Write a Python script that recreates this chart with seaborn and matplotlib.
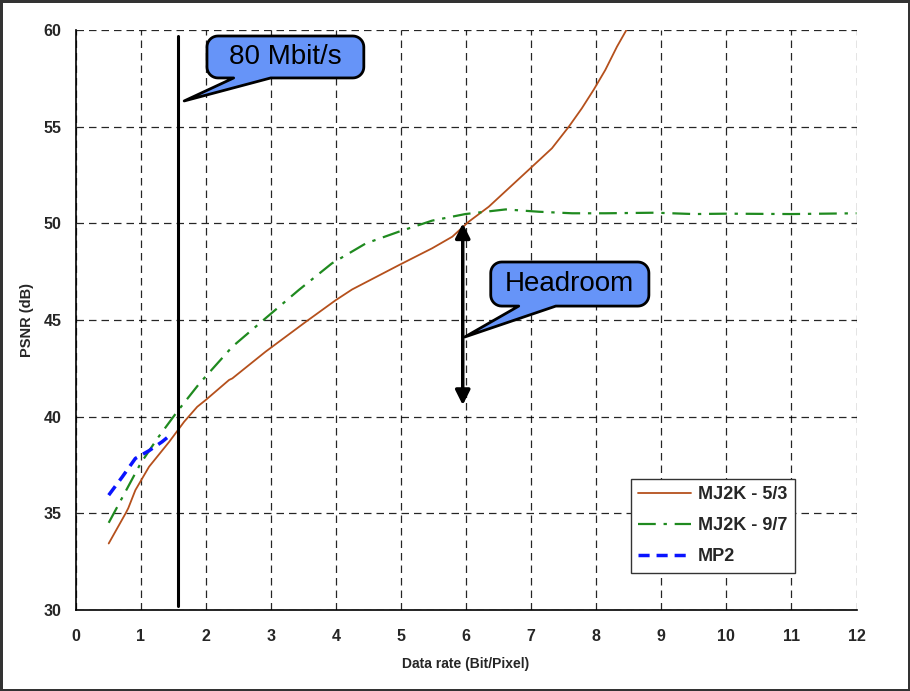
import numpy as np
import pandas as pd
import matplotlib
matplotlib.use("Agg")
import matplotlib.pyplot as plt
import seaborn as sns
from matplotlib.patches import Polygon
from matplotlib.ticker import MultipleLocator

# ---- data ----
mj53_x = [0.51, 0.77, 0.81, 0.92, 1.13, 1.44, 1.67, 1.87, 2.0, 2.36, 2.41, 2.92, 3.54, 4.0, 4.25,
          4.97, 5.48, 5.79, 6.04, 6.35, 6.71, 6.99, 7.32, 7.58, 7.78, 7.96, 8.14, 8.32, 8.48]
mj53_y = [33.44, 35.0, 35.26, 36.2, 37.41, 38.7, 39.74, 40.51, 40.86, 41.9, 41.98, 43.36, 44.91, 46.03, 46.58,
          47.84, 48.71, 49.31, 50.08, 50.86, 51.98, 52.85, 53.88, 55.0, 55.95, 56.9, 57.93, 59.14, 60.09]

mj97_x = [0.51, 0.67, 1.0, 1.26, 1.56, 1.90, 2.41, 2.92, 3.43, 3.94, 4.46, 4.97, 5.48, 5.99,
          6.61, 7.12, 7.63, 8.14, 8.91, 9.5, 10.0, 11.0, 12.0]
mj97_y = [34.51, 35.51, 37.58, 38.88, 40.25, 41.7, 43.62, 45.09, 46.55, 47.93, 48.96, 49.57, 50.14, 50.48,
          50.72, 50.6, 50.52, 50.52, 50.55, 50.48, 50.5, 50.48, 50.52]

mp2_x = [0.51, 0.72, 0.92, 1.13, 1.33, 1.49]
mp2_y = [35.94, 36.89, 37.84, 38.24, 38.7, 39.14]

series_names = ["MJ2K - 5/3", "MJ2K - 9/7", "MP2"]
x_ticks = list(range(0, 13))
y_ticks = [30, 35, 40, 45, 50, 55, 60]
rate_80mbit = 1.58
headroom_top, headroom_bottom, headroom_x = 50.0, 40.6, 5.95

callout1_text = "80 Mbit/s"
callout2_text = "Headroom"

# ---- figure ----
sns.set_style("white")
plt.rcParams['font.family'] = ['Liberation Sans', 'DejaVu Sans']

fig = plt.figure(figsize=(9.10, 6.91), dpi=100)
fig.patch.set_edgecolor('#333333')
fig.patch.set_linewidth(2.5)
ax = fig.add_axes([75.5 / 910, 81 / 691, 781 / 910, 580 / 691])

df53 = pd.DataFrame({"x": mj53_x, "y": mj53_y})
df97 = pd.DataFrame({"x": mj97_x, "y": mj97_y})
dfmp = pd.DataFrame({"x": mp2_x, "y": mp2_y})

sns.lineplot(data=df53, x="x", y="y", ax=ax, color="#b5501c", lw=1.3,
             label=series_names[0], sort=False, zorder=4)
sns.lineplot(data=df97, x="x", y="y", ax=ax, color="#1f8a1f", lw=1.6,
             label=series_names[1], sort=False, zorder=4)
ax.lines[-1].set_dashes([8, 3.5, 1.5, 3.5])
sns.lineplot(data=dfmp, x="x", y="y", ax=ax, color="#0a14ff", lw=2.5,
             label=series_names[2], sort=False, zorder=4)
ax.lines[-1].set_dashes([3.2, 2.0])

ax.set_xlim(0, 12)
ax.set_ylim(30, 60)
ax.set_xticks(x_ticks)
ax.set_yticks(y_ticks)
ax.xaxis.set_minor_locator(MultipleLocator(0.5))
ax.yaxis.set_minor_locator(MultipleLocator(1))
ax.tick_params(which='both', direction='out', length=5, width=1, color='black',
               labelsize=11.5, pad=5)
ax.tick_params(axis='x', which='major', pad=9)
for lab in ax.get_xticklabels() + ax.get_yticklabels():
    lab.set_fontweight('bold')

for s in ['top', 'right']:
    ax.spines[s].set_visible(False)
for s in ['left', 'bottom']:
    ax.spines[s].set_color('black')
    ax.spines[s].set_linewidth(1.2)

ax.grid(True, which='major', color='black', linestyle=(0, (6, 4)), linewidth=0.9, alpha=0.85)
ax.set_axisbelow(True)

ax.set_xlabel("Data rate (Bit/Pixel)", fontsize=10, fontweight='bold', labelpad=9)
ax.set_ylabel("PSNR (dB)", fontsize=10.5, fontweight='bold', labelpad=7)

# vertical 80 Mbit/s marker
ax.plot([rate_80mbit, rate_80mbit], [30.2, 59.7], color='black', lw=2.2, zorder=5)

# headroom double arrow
ax.annotate('', xy=(headroom_x, headroom_top), xytext=(headroom_x, headroom_bottom),
            arrowprops=dict(arrowstyle='<|-|>', lw=2.5, color='black', mutation_scale=22,
                            shrinkA=0, shrinkB=0), zorder=6)

leg = ax.legend(loc='lower left', bbox_to_anchor=(0.711, 0.064), borderaxespad=0,
                frameon=True, fancybox=False, framealpha=1, edgecolor='#333333',
                prop={'weight': 'bold', 'size': 13}, handlelength=2.9,
                labelspacing=0.78, borderpad=0.42, handletextpad=0.4)
leg.get_frame().set_linewidth(1.0)


def callout(x0, x1, ytop, ybot, tip, base0, base1, text):
    fig.canvas.draw()
    T = ax.transData
    (px0, py0) = T.transform((x0, ybot))
    (px1, py1) = T.transform((x1, ytop))
    (tx, ty) = T.transform(tip)
    bx0 = T.transform((base0, ybot))[0]
    bx1 = T.transform((base1, ybot))[0]
    r = 11
    pts = []

    def arc(cx, cy, a0, a1):
        for a in np.linspace(np.radians(a0), np.radians(a1), 10):
            pts.append((cx + r * np.cos(a), cy + r * np.sin(a)))
    arc(px0 + r, py0 + r, 180, 270)
    pts.append((bx0, py0))
    pts.append((tx, ty))
    pts.append((bx1, py0))
    arc(px1 - r, py0 + r, 270, 360)
    arc(px1 - r, py1 - r, 0, 90)
    arc(px0 + r, py1 - r, 90, 180)
    data_pts = T.inverted().transform(np.array(pts))
    poly = Polygon(data_pts, closed=True, facecolor='#6694f8', edgecolor='black',
                   lw=2.0, joinstyle='round', zorder=7)
    ax.add_patch(poly)
    ax.text((x0 + x1) / 2, (ytop + ybot) / 2, text, ha='center', va='center',
            fontsize=20, color='black', zorder=8)


callout(2.02, 4.43, 59.69, 57.52, (1.67, 56.33), 2.43, 3.0, callout1_text)
callout(6.38, 8.81, 48.0, 45.72, (5.98, 44.12), 6.81, 7.38, callout2_text)

fig.savefig("out.png", dpi=100, edgecolor=fig.get_edgecolor(), facecolor='white')
